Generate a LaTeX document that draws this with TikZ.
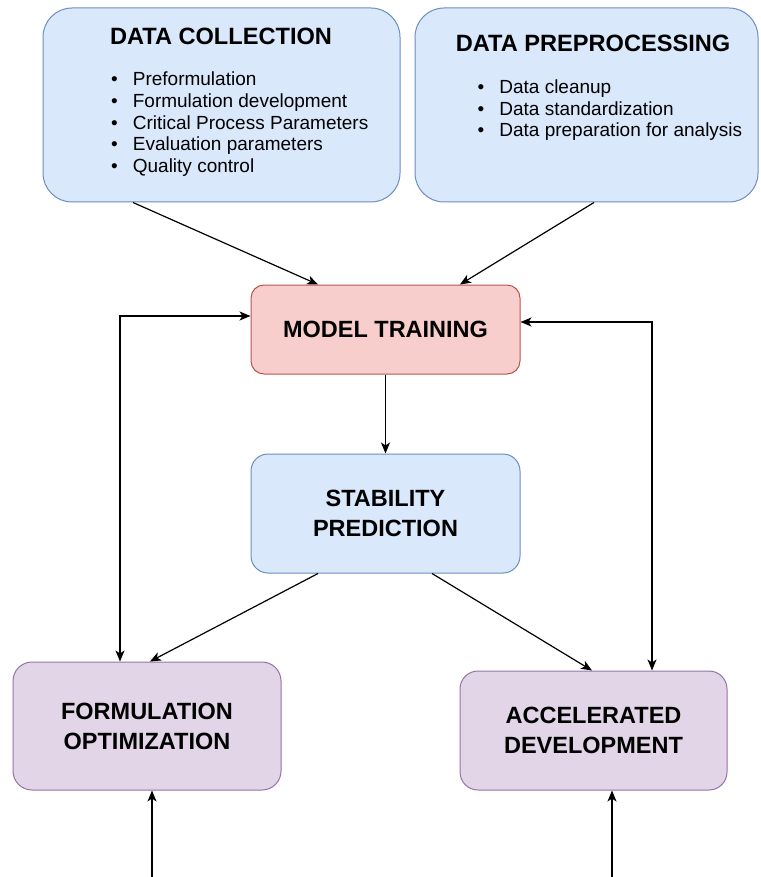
\documentclass[tikz,border=0pt]{standalone}
\usepackage{fontspec}
\setmainfont{Liberation Sans}
\usetikzlibrary{arrows.meta}
\definecolor{bluefill}{HTML}{DAE8FC}
\definecolor{bluedraw}{HTML}{6C8EBF}
\definecolor{redfill}{HTML}{F8CECC}
\definecolor{reddraw}{HTML}{B85450}
\definecolor{purplefill}{HTML}{E1D5E7}
\definecolor{purpledraw}{HTML}{9673A6}
\tikzset{
  box/.style={draw, line width=1pt, inner sep=0pt, align=center,
    font=\fontsize{23.5}{30}\selectfont\bfseries},
  bluebox/.style={box, fill=bluefill, draw=bluedraw},
  redbox/.style={box, fill=redfill, draw=reddraw},
  purplebox/.style={box, fill=purplefill, draw=purpledraw},
  titletext/.style={inner sep=0pt, font=\fontsize{23.6}{27}\selectfont\bfseries},
  listtext/.style={inner sep=0pt, font=\fontsize{19}{21.7}\selectfont},
  conn/.style={line width=1.2pt, -{Stealth[length=11pt,width=9pt,inset=3pt]}},
  dconn/.style={line width=1.2pt, {Stealth[length=11pt,width=9pt,inset=3pt]}-{Stealth[length=11pt,width=9pt,inset=3pt]}}
}
\begin{document}
\begin{tikzpicture}[x=1pt,y=-1pt]
\fill[white] (0,0) rectangle (760,877);
\useasboundingbox (0,0) rectangle (760,877);

\node[bluebox, minimum width=357pt, minimum height=194pt, rounded corners=29pt] (DC) at (221.5,105) {};
\node[bluebox, minimum width=343pt, minimum height=194pt, rounded corners=29pt] (DP) at (586.5,105) {};

\node[titletext, anchor=base] (DCt) at (221,45) {DATA COLLECTION};
\node[titletext, anchor=base] (DPt) at (593,52) {DATA PREPROCESSING};

\node[listtext, anchor=north west] (DCl) at (111,70.5) {%
\begin{tabular}{@{}l@{\hspace{15pt}}l@{}}
\textbullet & Preformulation\\
\textbullet & Formulation development\\
\textbullet & Critical Process Parameters\\
\textbullet & Evaluation parameters\\
\textbullet & Quality control
\end{tabular}};
\node[listtext, anchor=north west] (DPl) at (477.5,78) {%
\begin{tabular}{@{}l@{\hspace{15pt}}l@{}}
\textbullet & Data cleanup\\
\textbullet & Data standardization\\
\textbullet & Data preparation for analysis
\end{tabular}};

\node[redbox, minimum width=269pt, minimum height=89pt, rounded corners=13pt] (MT) at (385.5,329.5) {MODEL TRAINING};
\node[bluebox, minimum width=269pt, minimum height=119pt, rounded corners=17pt] (SP) at (385.5,513.5) {STABILITY\\PREDICTION};
\node[purplebox, minimum width=268pt, minimum height=128pt, rounded corners=19pt] (FO) at (147,726) {FORMULATION\\OPTIMIZATION};
\node[purplebox, minimum width=267pt, minimum height=119pt, rounded corners=18pt] (AD) at (593.5,730.5) {ACCELERATED\\DEVELOPMENT};

\coordinate (FOin) at (152,877);
\coordinate (ADin) at (612,877);

\draw[conn] ([xshift=-88.5pt]DC.south) -- ([xshift=-67.5pt]MT.north);
\draw[conn] ([xshift=7.5pt]DP.south) -- ([xshift=74.5pt]MT.north);
\draw[dconn] ([xshift=-27pt]FO.north) |- ([yshift=13.5pt]MT.west);
\draw[dconn] ([xshift=58.5pt]AD.north) |- ([yshift=7.5pt]MT.east);
\draw[conn] (MT.south) -- (SP.north);
\draw[conn] ([xshift=-67.5pt]SP.south) -- ([xshift=3pt]FO.north);
\draw[conn] ([xshift=46.5pt]SP.south) -- ([xshift=-1.5pt]AD.north);
\draw[conn] (FOin) -- (FOin |- FO.south);
\draw[conn] (ADin) -- (ADin |- AD.south);
\end{tikzpicture}
\end{document}
